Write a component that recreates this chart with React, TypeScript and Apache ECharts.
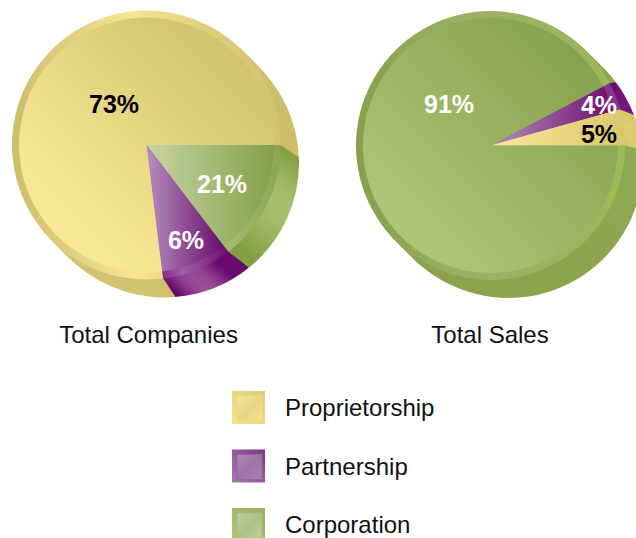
import React, { useEffect, useRef } from "react";
import * as echarts from "echarts";

// Legend / categories
const categories = ["Proprietorship", "Partnership", "Corporation"];

// Printed percentages
const companiesPercent = { Corporation: 21, Partnership: 6, Proprietorship: 73 };
const salesPercent = { Partnership: 4, Proprietorship: 5, Corporation: 91 };

// Angular size of each wedge as drawn in the picture (degrees): the artwork's wedges
// are not proportional to the printed percentages. "Back" is the far end of the 3D extrusion.
const companiesOrder = ["Corporation", "Partnership", "Proprietorship"];
const companiesArc = [52.6, 30.4, 277];
const companiesBackArc = [53.8, 34.3, 271.9];
const salesOrder = ["Partnership", "Proprietorship", "Corporation"];
const salesArc = [12.1, 15.6, 332.3];
const salesBackArc = [15.8, 15.4, 328.8];

const chartTitles = ["Total Companies", "Total Sales"];

const FONT = '"Liberation Sans", Arial, sans-serif';
const lin = (x: number, y: number, x2: number, y2: number, stops: [number, string][]) => ({
  type: "linear", x, y, x2, y2, colorStops: stops.map(([offset, color]) => ({ offset, color })),
});
const rad = (x: number, y: number, r: number, stops: [number, string][]) => ({
  type: "radial", x, y, r, colorStops: stops.map(([offset, color]) => ({ offset, color })),
});

const LEFT = {
  cx: 146.5, cy: 145, startAngle: 0, backStart: 2.6, order: companiesOrder, arc: companiesArc, backArc: companiesBackArc, pct: companiesPercent,
  labels: { Corporation: [222, 184, "#fff"], Partnership: [186, 240, "#fff"], Proprietorship: [114, 104, "#000"] },
  side: {
    Proprietorship: lin(0, 1, 1, 0, [[0, "#d6c778"], [0.5, "#cbbb66"], [1, "#cfbf6c"]]),
    Partnership: rad(0.49, 0.84, 0.34, [[0, "#a866a6"], [0.55, "#8d3c8c"], [1, "#6a0a6e"]]),
    Corporation: rad(0.79, 0.46, 0.48, [[0, "#b4c879"], [0.55, "#9cb45e"], [1, "#82a040"]]),
  },
  rim: {
    Proprietorship: lin(0, 0, 1, 0, [[0, "#cdbd69"], [0.1, "#d6c676"], [0.45, "#f7e593"], [0.7, "#e0cf7c"], [1, "#d2c270"]]),
    Partnership: lin(0, 0, 1, 0, [[0, "#6e0a72"], [0.45, "#a060a4"], [1, "#6e0c70"]]),
    Corporation: lin(0, 0, 1, 0, [[0, "#9db56a"], [0.6, "#a6bb72"], [1, "#8ba651"]]),
  },
  face: {
    Proprietorship: lin(0.05, 0.95, 0.9, 0.1, [[0, "#fbe99a"], [0.25, "#f6e592"], [1, "#cfbf6c"]]),
    Partnership: lin(0, 0, 1, 0, [[0, "#b68fbd"], [1, "#6a0c6e"]]),
    Corporation: lin(0, 0, 1, 0, [[0, "#c8d5a4"], [1, "#84a04a"]]),
  },
};

const RIGHT = {
  cx: 490.5, cy: 145.5, startAngle: 27.7, backStart: 37, order: salesOrder, arc: salesArc, backArc: salesBackArc, pct: salesPercent,
  labels: { Corporation: [449, 104, "#fff"], Partnership: [599, 105, "#fff"], Proprietorship: [599, 134, "#000"] },
  side: {
    Proprietorship: rad(0.5, 0.5, 0.6, [[0, "#f6e486"], [1, "#d8c66e"]]),
    Partnership: rad(0.5, 0.5, 0.6, [[0, "#a06aa6"], [1, "#6e0a72"]]),
    Corporation: lin(0, 0.5, 1, 0.5, [[0, "#8ba24a"], [0.8, "#8ca44c"], [1, "#90a852"]]),
  },
  rim: {
    Proprietorship: lin(0, 0, 1, 0, [[0, "#e0cd74"], [0.5, "#f6e590"], [1, "#d8c56c"]]),
    Partnership: lin(0, 0, 1, 0, [[0, "#8a3c8e"], [0.5, "#7e1a80"], [1, "#8a3c8e"]]),
    Corporation: lin(0, 0, 1, 0, [[0, "#87a04a"], [0.4, "#9ab064"], [0.85, "#9bb65c"], [1, "#9cbb52"]]),
  },
  face: {
    Proprietorship: lin(0, 0, 1, 0, [[0, "#f8e89a"], [1, "#dcc96e"]]),
    Partnership: lin(0, 0, 1, 0, [[0, "#b48dbb"], [1, "#6c0e70"]]),
    Corporation: lin(0.05, 0.95, 0.9, 0.1, [[0, "#b5c980"], [1, "#86a04a"]]),
  },
};

const SWATCH = {
  Proprietorship: { fill: lin(0, 1, 1, 0, [[0, "#f5e38c"], [1, "#ddcb78"]]), edge: "#eedc84", inner: lin(0, 0, 1, 1, [[0, "#f6e79a"], [0.5, "#e6d684"], [1, "#f4e492"]]) },
  Partnership: { fill: lin(0, 1, 1, 0, [[0, "#a878ae"], [0.6, "#8f5598"], [1, "#7f2f86"]]), edge: "#96659f", inner: lin(0, 0, 1, 1, [[0, "#b08ab8"], [0.5, "#9c74a6"], [1, "#ab84b2"]]) },
  Corporation: { fill: lin(0, 1, 1, 0, [[0, "#b0c47c"], [1, "#98ae5c"]]), edge: "#a6bb70", inner: lin(0, 0, 1, 1, [[0, "#c2d0a0"], [0.5, "#aebf88"], [1, "#c0ce9c"]]) },
};

const EXTRUDE = 18;
const R_OUT = 134.5;
const R_IN = 127.5;

function wedgeData(p: any, arcs: number[], colors: any, withLabel: boolean) {
  return p.order.map((name: string, i: number) => ({
    name,
    value: arcs[i],
    itemStyle: { color: colors[name] },
    label: withLabel
      ? {
          show: true,
          formatter: `${p.pct[name]}%`,
          color: p.labels[name][2],
          fontFamily: FONT,
          fontWeight: "bold",
          fontSize: 25,
        }
      : { show: false },
  }));
}

function pieLayer(p: any, dx: number, r: number, colors: any, withLabel = false) {
  const t = dx / EXTRUDE;
  const arcs = p.arc.map((a: number, i: number) => a + (p.backArc[i] - a) * t);
  return {
    type: "pie",
    silent: true,
    center: [p.cx + dx, p.cy + dx],
    radius: [0, r],
    startAngle: p.startAngle + (p.backStart - p.startAngle) * t,
    clockwise: true,
    sort: false,
    avoidLabelOverlap: false,
    minShowLabelAngle: 0,
    labelLine: { show: false },
    emphasis: { disabled: true },
    data: wedgeData(p, arcs, colors, withLabel),
    ...(withLabel
      ? {
          z: 5,
          labelLayout: (params: any) => {
            const l = p.labels[p.order[params.dataIndex]];
            return { x: l[0], y: l[1], align: "center", verticalAlign: "middle" };
          },
        }
      : {}),
  };
}

function pieSeries(p: any) {
  const layers: any[] = [];
  for (let s = EXTRUDE; s >= 1; s--) layers.push(pieLayer(p, s, R_OUT, p.side));
  layers.push(pieLayer(p, 0, R_OUT, p.rim));
  layers.push(pieLayer(p, 0, R_IN, p.face, true));
  return layers;
}

export default function App() {
  const ref = useRef<HTMLDivElement>(null);
  useEffect(() => {
    document.body.style.margin = "0";
    const chart = echarts.init(ref.current!, undefined, { renderer: "svg" });
    const legendTop = 391;
    const rowStep = 58.5;
    chart.setOption({
      animation: false,
      backgroundColor: "#fff",
      title: chartTitles.map((text, i) => ({
        text,
        left: i === 0 ? 148.5 : 490,
        top: 322,
        padding: 0,
        textAlign: "center",
        textStyle: { fontFamily: FONT, fontSize: 24, fontWeight: "normal", color: "#111" },
      })),
      legend: {
        orient: "vertical",
        left: 232,
        top: legendTop,
        padding: 0,
        itemWidth: 33,
        itemHeight: 33,
        itemGap: rowStep - 33,
        selectedMode: false,
        textStyle: { fontFamily: FONT, fontSize: 24, color: "#111", padding: [5, 0, 0, 15] },
        data: categories.map((name) => ({
          name,
          icon: "rect",
          itemStyle: { color: (SWATCH as any)[name].fill, borderWidth: 0 },
        })),
      },
      graphic: categories.map((name, i) => ({
        type: "rect",
        silent: true,
        z: 100,
        shape: { x: 237, y: legendTop + i * rowStep + 5, width: 25, height: 25 },
        style: { fill: (SWATCH as any)[name].inner as any, stroke: (SWATCH as any)[name].edge, lineWidth: 1 },
      })),
      series: [...pieSeries(LEFT), ...pieSeries(RIGHT)],
    });
    return () => chart.dispose();
  }, []);
  return (
    <div style={{ width: 636, height: 538, overflow: "hidden" }}>
      <div ref={ref} style={{ width: 636, height: 600 }} />
    </div>
  );
}
